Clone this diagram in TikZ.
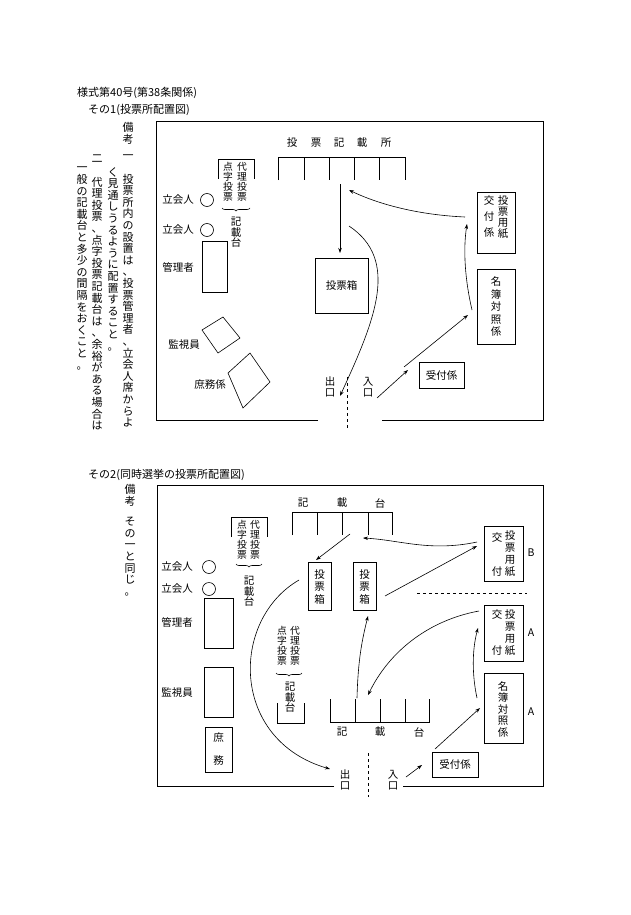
\documentclass[tikz,border=0pt]{standalone}
\usepackage{fontspec}
\setmainfont{Noto Sans CJK JP}
\usetikzlibrary{arrows.meta,decorations.pathreplacing}
\def\vtA#1{\ifx#1\relax\else\hbox to 1em{\hss#1\hss}\expandafter\vtA\fi}
\newcommand\vt[2][12pt]{\vbox{\baselineskip=#1\lineskiplimit=-20pt\lineskip=0pt\vtA#2\relax}}
\begin{document}
\begin{tikzpicture}[x=1pt,y=-1pt,
  every node/.style={inner sep=0pt,font=\fontsize{10.5}{12}\selectfont},
  nt/.style={font=\fontsize{11}{12}\selectfont},
  sm/.style={font=\fontsize{9.8}{11}\selectfont},
  ln/.style={line width=0.6pt},
  ar/.style={line width=0.6pt,-{Stealth[length=5pt,width=3.5pt]}},
  box/.style={draw,line width=0.6pt}]
\useasboundingbox (0,0) rectangle (630,915);
\fill[white] (0,0) rectangle (630,915);
% titles
\node[anchor=west,nt] (t0) at (77,93) {様式第40号(第38条関係)};
\node[anchor=west,nt] (t1) at (88,110) {その1(投票所配置図)};
\node[anchor=west,nt] (t2) at (88,475) {その2(同時選挙の投票所配置図)};
% notes 1
\node[anchor=north,nt] (n0) at (128,122) {\vt{備考}};
\node[anchor=north,nt] (n1) at (128,155) {\vt[11.6pt]{一　投票所内の設置は、投票管理者、立会人席からよ}};
\node[anchor=north,nt] (n2) at (113,167) {\vt[11.6pt]{く見通しうるように配置すること。}};
\node[anchor=north,nt] (n3) at (97,155) {\vt[11.6pt]{二　代理投票、点字投票記載台は、余裕がある場合は}};
\node[anchor=north,nt] (n4) at (82,167) {\vt[11.6pt]{一般の記載台と多少の間隔をおくこと。}};
% notes 2
\node[anchor=north,nt] (m0) at (130,484) {\vt{備考}};
\node[anchor=north,nt] (m1) at (130,517) {\vt[11.6pt]{その一と同じ。}};

%%%%%%%%% diagram 1
\draw[ln] (318,420) -| (156,121) -| (543,420) -- (382,420);
\draw[ln,dashed] (347,377) -- (347,428);
\foreach \c/\x in {投/292,票/316,記/339,載/362,所/386} \node (h\x) at (\x,143) {\c};
\draw[ln] (278,180) -- (278,157) -- (405,157) -- (405,180);
\foreach \x in {304,329,354,379} \draw[ln] (\x,157) -- (\x,180);
% proxy
\draw[ln] (218,179) -- (218,159) -- (254,159) -- (254,179);
\node[anchor=north,sm] (p1) at (242,162) {\vt[10pt]{代理投票}};
\node[anchor=north,sm] (p2) at (228,162) {\vt[10pt]{点字投票}};
\draw[ln,decorate,decoration={brace,amplitude=3pt}] (250,208) -- (222,208);
\node[anchor=north] (p3) at (236,217) {\vt[10.5pt]{記載台}};
\node (w1) at (178,200) {立会人};
\draw[ln] (207,200) circle (6.5);
\node (w2) at (178,230) {立会人};
\draw[ln] (207,230) circle (6.5);
\node (k1) at (178,267) {管理者};
\draw[box] (202,241) rectangle (227,292);
\node (k2) at (184,345) {監視員};
\draw[box] (223,317) -- (240,338) -- (218,353) -- (202,330) -- cycle;
\node (k3) at (210,385) {庶務係};
\draw[box] (250,353) -- (270,382) -- (243,408) -- (228,373) -- cycle;
\node[box,minimum width=53pt,minimum height=55pt] (bx) at (341.5,285.5) {投票箱};
\draw[box] (477,192) rectangle (515,253);
\node[anchor=north] (q1) at (503,195) {\vt[11pt]{投票用紙}};
\node[anchor=north] (q2) at (489,195) {\vt[16pt]{交付係}};
\draw[box] (477,269) rectangle (515,344);
\node (q3) at (496,306.5) {\vt[12.5pt]{名簿対照係}};
\node[box,minimum width=45pt,minimum height=26pt] (uk) at (441.5,375) {受付係};
\node (ex1) at (330,387) {\vt[11pt]{出口}};
\node (en1) at (368,387) {\vt[11pt]{入口}};
\draw[ar] (340,184) -- (340,253);
\draw[ar] (349,226) .. controls (400,260) and (375,320) .. (340,396);
\draw[ar] (465,217) .. controls (420,215) and (380,205) .. (349,190);
\draw[ar] (472,310) .. controls (465,280) and (463,250) .. (467,224);
\draw[ar] (404,367) -- (468,315);
\draw[ar] (377,398) -- (408,370);

%%%%%%%%% diagram 2
\draw[ln] (334,786) -| (157,485) -| (543,786) -- (403,786);
\draw[ln,dashed] (368,753) -- (368,797);
\foreach \c/\x in {記/303,載/342,台/380} \node (g\x) at (\x,503) {\c};
\draw[ln] (292,535) -- (292,512) -- (392,512) -- (392,535);
\foreach \x in {317,342,368} \draw[ln] (\x,512) -- (\x,535);
\draw[ln] (231,537) -- (231,517) -- (267,517) -- (267,537);
\node[anchor=north,sm] (r1) at (255,520) {\vt[10pt]{代理投票}};
\node[anchor=north,sm] (r2) at (242,520) {\vt[10pt]{点字投票}};
\draw[ln,decorate,decoration={brace,amplitude=3pt}] (262,564) -- (236,564);
\node[anchor=north] (r3) at (249,576) {\vt[10.5pt]{記載台}};
\node (w3) at (177,567) {立会人};
\draw[ln] (209,567) circle (6.5);
\node (w4) at (177,589) {立会人};
\draw[ln] (209,589) circle (6.5);
\node (k4) at (177,622) {管理者};
\draw[box] (204,598) rectangle (233,648);
\node (k5) at (177,693) {監視員};
\draw[box] (204,667) rectangle (233,717);
\draw[box] (205,727) rectangle (232,772);
\node (k6) at (218.5,749) {\vt[23pt]{庶務}};
\draw[box] (308,562) rectangle (331,610);
\node (b1) at (319.5,587) {\vt[12.5pt]{投票箱}};
\draw[box] (353,562) rectangle (376,610);
\node (b2) at (364.5,587) {\vt[12.5pt]{投票箱}};
\draw[box] (484,526) rectangle (523,581);
\node[anchor=north] (s1) at (510,530) {\vt[12pt]{投票用紙}};
\node (s2) at (497,538) {交};
\node (s3) at (497,572) {付};
\node (bB) at (531,553) {B};
\draw[ln,dashed] (417,593) -- (527,593);
\draw[box] (484,605) rectangle (523,661);
\node[anchor=north] (s4) at (510,609) {\vt[12pt]{投票用紙}};
\node (s5) at (497,615) {交};
\node (s6) at (497,651) {付};
\node (bA1) at (531,633) {A};
\draw[box] (484,673) rectangle (523,743);
\node (s7) at (503,709) {\vt[11.5pt]{名簿対照係}};
\node (bA2) at (531,712) {A};
\node[box,minimum width=46pt,minimum height=25pt] (uk2) at (455,764.5) {受付係};
\draw[ln] (330,699) -- (330,722) -- (429,722) -- (429,699);
\foreach \x in {355,380,405} \draw[ln] (\x,699) -- (\x,722);
\foreach \c/\x in {記/342,載/380,台/419} \node (f\x) at (\x,732) {\c};
\node[anchor=north,sm] (u1) at (295,626) {\vt[10pt]{代理投票}};
\node[anchor=north,sm] (u2) at (282,626) {\vt[10pt]{点字投票}};
\draw[ln,decorate,decoration={brace,amplitude=3pt}] (302,673) -- (276,673);
\node[anchor=north] (u3) at (290,682) {\vt[10.5pt]{記載台}};
\draw[ln] (277,703) -- (277,723) -- (304,723) -- (304,703);
\node (ex2) at (345,780) {\vt[11pt]{出口}};
\node (en2) at (393,780) {\vt[11pt]{入口}};
\draw[ar] (350,534) -- (316,560);
\draw[ar] (477,542) .. controls (430,552) and (400,540) .. (363,538);
\draw[ar] (385,596) -- (477,546);
\draw[ar] (299,580) .. controls (230,620) and (230,740) .. (330,769);
\draw[ar] (357,698) .. controls (358,660) and (362,640) .. (368,616);
\draw[ar] (479,611) .. controls (430,620) and (390,650) .. (368,695);
\draw[ar] (477,698) .. controls (472,675) and (472,650) .. (478,628);
\draw[ar] (435,749) -- (480,708);
\draw[ar] (406,777) -- (422,765);
\end{tikzpicture}
\end{document}
